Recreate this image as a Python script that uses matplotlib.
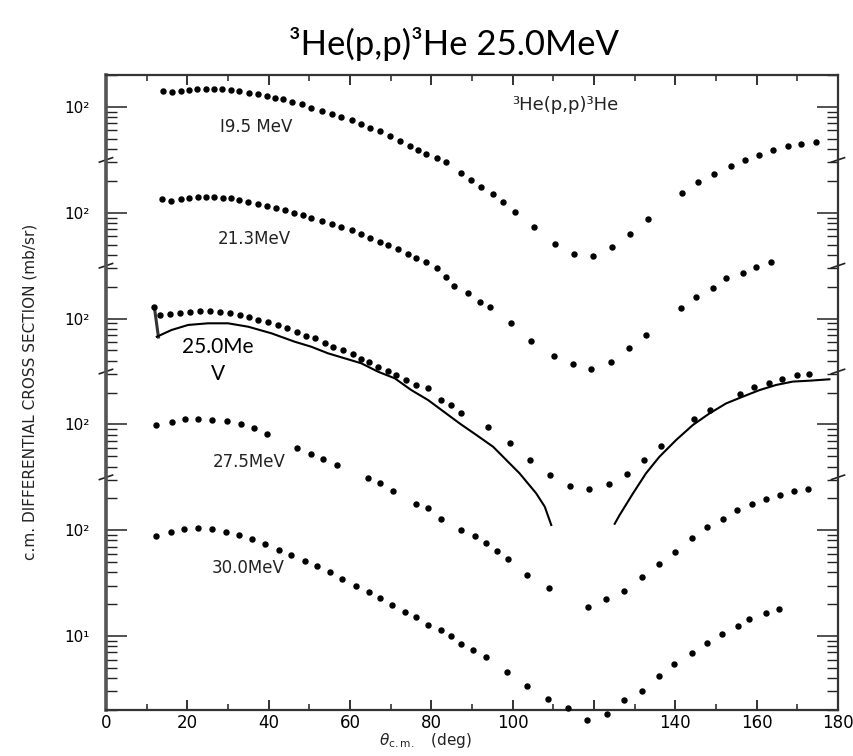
import matplotlib
matplotlib.use('Agg')
import matplotlib.pyplot as plt
import matplotlib.transforms as mtransforms
from matplotlib.ticker import FixedLocator, LogLocator, FixedFormatter, NullFormatter

# 3He(p,p)3He angular distributions (theta c.m. in deg, mb/sr)
theta_195 = [14.1, 16.3, 18.4, 20.5, 22.5, 24.6, 26.5, 28.6, 30.7, 32.8, 35.1, 37.4,
             39.5, 41.5, 43.6, 45.8, 48.2, 50.5, 53.0, 55.5, 57.9, 60.4, 62.8, 64.9,
             67.3, 69.8, 72.2, 74.7, 76.8, 78.8, 81.3, 83.7, 87.4, 89.8, 92.3, 95.2,
             97.6, 100.5, 105.2, 110.5, 115.2, 119.7, 124.5, 128.9, 133.2, 141.7,
             145.5, 149.6, 153.7, 157.2, 160.5, 164.1, 167.6, 170.9, 174.6]
xs_195 = [143, 139, 142, 145, 147, 149, 148, 147, 145, 142, 136, 132,
          127, 122, 118, 112, 106, 98.6, 92.3, 86.4, 81.0, 75.8, 68.6, 63.7,
          59.3, 52.8, 47.7, 43.1, 39.2, 36.2, 32.7, 30.0, 23.9, 20.4, 17.4, 15.1,
          12.6, 10.2, 7.29, 5.07, 4.05, 3.93, 4.75, 6.34, 8.73, 15.3,
          19.4, 23.1, 27.5, 31.8, 35.4, 39.0, 42.5, 45.0, 46.4]

theta_213 = [13.7, 16.1, 18.4, 20.5, 22.7, 24.7, 26.6, 28.7, 30.7, 32.8, 35.0, 37.4,
             39.7, 41.9, 44.0, 46.3, 48.5, 50.5, 53.0, 55.5, 57.9, 60.4, 62.8, 64.9,
             67.3, 69.4, 71.8, 74.3, 76.3, 78.8, 81.3, 83.7, 85.7, 89.0, 91.9, 94.5,
             99.7, 104.6, 110.1, 114.8, 119.3, 124.2, 128.6, 132.9, 141.4, 145.1,
             149.2, 152.5, 156.6, 159.9, 163.6]
xs_213 = [134, 130, 135, 139, 141, 141, 141, 139, 137, 133, 127, 122,
          116, 110, 106, 100, 95.3, 90.0, 84.2, 78.3, 73.4, 68.3, 62.7, 57.4,
          53.4, 49.6, 45.2, 40.8, 37.2, 34.1, 30.3, 24.9, 20.5, 17.3, 14.5, 12.8,
          9.03, 6.18, 4.43, 3.70, 3.36, 3.86, 5.24, 7.00, 12.5, 16.0,
          19.6, 24.0, 27.0, 30.5, 34.0]

theta_250 = [11.9, 13.3, 15.7, 18.2, 20.6, 23.1, 25.6, 28.0, 30.5, 32.9, 35.1, 37.4,
             39.9, 42.2, 44.6, 46.9, 49.3, 51.4, 53.8, 55.9, 58.3, 60.8, 62.8, 64.6,
             66.9, 69.4, 71.4, 73.9, 76.3, 79.2, 82.5, 84.9, 87.4, 93.9, 99.3, 104.2,
             109.3, 114.2, 118.9, 123.6, 128.2, 132.2, 136.5, 144.7, 148.6, 155.8,
             159.3, 163.0, 166.3, 169.9, 173.0]
xs_250 = [128, 108, 110, 114, 116, 118, 118, 116, 113, 108, 103, 97.0,
          92.3, 87.1, 80.9, 75.2, 68.9, 65.1, 59.2, 54.2, 50.1, 46.0, 41.5, 39.1,
          35.1, 32.2, 29.3, 26.3, 23.6, 21.9, 17.0, 15.2, 12.7, 9.39, 6.71, 4.61,
          3.30, 2.62, 2.44, 2.72, 3.42, 4.61, 6.25, 11.2, 13.7, 19.4,
          22.4, 24.8, 26.9, 29.1, 29.9]
err_low_250 = 67  # lower end of the bar on the first 25.0 MeV point

# calculated curve drawn through the 25.0 MeV data (two branches)
theta_calc_a = [12.5, 16.1, 20.2, 25.1, 30.0, 35.0, 40.7, 46.4, 50.5, 54.6, 62.8, 66.9,
                71.0, 75.1, 79.2, 87.0, 91.1, 95.2, 101.7, 105.8, 107.9, 109.5]
xs_calc_a = [67.4, 78.0, 87.1, 90.3, 90.3, 83.8, 72.6, 60.5, 54.2, 47.0, 37.8, 31.5,
             27.3, 21.1, 17.0, 10.2, 7.94, 6.15, 3.45, 2.23, 1.67, 1.12]
theta_calc_b = [125.1, 126.3, 129.6, 132.8, 136.1, 140.2, 144.3, 148.4, 152.5, 156.6,
                160.7, 164.8, 168.9, 173.0, 177.9]
xs_calc_b = [1.15, 1.39, 2.23, 3.45, 4.95, 7.12, 9.86, 12.7, 15.8, 18.3,
             21.1, 23.6, 25.4, 25.9, 26.7]

theta_275 = [12.4, 16.3, 19.4, 22.7, 26.1, 29.7, 33.1, 36.4, 39.5, 46.9, 50.5, 53.4,
             56.7, 64.4, 67.3, 70.6, 76.3, 79.2, 82.5, 87.4, 90.7, 93.5, 96.1, 98.8,
             103.6, 108.9, 118.5, 123.0, 127.5, 131.9, 136.1, 140.0, 144.1, 147.8,
             151.7, 155.2, 158.9, 162.2, 165.8, 169.1, 172.6]
xs_275 = [98.7, 106, 112, 112, 110, 108, 100, 91.8, 80.5, 59.4, 52.5, 47.1,
          41.0, 31.1, 27.7, 23.5, 17.7, 16.1, 12.9, 10.0, 8.87, 7.52, 6.40, 5.31,
          3.75, 2.82, 1.87, 2.22, 2.68, 3.59, 4.80, 6.18, 8.49, 10.8,
          12.9, 15.5, 17.7, 19.9, 21.7, 23.3, 24.7]

theta_300 = [12.4, 16.0, 19.2, 22.7, 26.1, 29.5, 32.7, 35.8, 39.2, 42.5, 45.6, 48.9,
             52.0, 55.0, 58.1, 61.4, 64.6, 67.3, 70.3, 73.5, 76.3, 79.2, 82.5, 84.8,
             87.4, 90.2, 93.4, 98.6, 103.6, 108.7, 113.6, 118.3, 123.2, 127.3, 131.9,
             136.0, 139.8, 144.2, 147.7, 151.5, 155.4, 158.2, 162.3, 165.4]
xs_300 = [88.1, 96.9, 103, 106, 102, 96.9, 90.1, 82.0, 74.1, 65.1, 58.3, 51.5,
          45.9, 40.0, 34.6, 29.9, 25.9, 22.7, 19.6, 17.0, 15.0, 12.7, 11.4, 10.0,
          8.40, 7.38, 6.30, 4.57, 3.37, 2.52, 2.07, 1.61, 1.83, 2.48, 3.04,
          4.19, 5.41, 6.86, 8.65, 10.5, 12.5, 14.5, 16.6, 18.0]

# each curve is shifted up by a number of decades on the common log axis
series = [
    (theta_195, xs_195, 4),
    (theta_213, xs_213, 3),
    (theta_250, xs_250, 2),
    (theta_275, xs_275, 1),
    (theta_300, xs_300, 0),
]
energy_labels = ['I9.5 MeV', '21.3MeV', '27.5MeV', '30.0MeV']

fig = plt.figure(figsize=(8.54, 7.56), dpi=100)
ax = fig.add_axes([0.1241, 0.0608, 0.8571, 0.8400])

for th, xs, k in series:
    ys = [v * 10 ** k for v in xs]
    ax.plot(th, ys, 'o', ms=3.6, color='black', mec='black', clip_on=False, zorder=3)

# error bar on the first forward-angle 25.0 MeV point
ax.plot([theta_250[0], theta_250[0] + 1.0], [xs_250[0] * 100, err_low_250 * 100],
        color='#333333', lw=2.2)

ax.plot(theta_calc_a, [v * 100 for v in xs_calc_a], color='black', lw=1.5)
ax.plot(theta_calc_b, [v * 100 for v in xs_calc_b], color='black', lw=1.5)

ax.set_yscale('log')
ax.set_xlim(0, 180)
ax.set_ylim(10 ** 0.3006, 10 ** 6.3025)

ax.xaxis.set_major_locator(FixedLocator([0, 20, 40, 60, 80, 100, 120, 140, 160, 180]))
ax.xaxis.set_major_formatter(FixedFormatter(['0', '20', '40', '60', '80', '100', '',
                                             '140', '160', '180']))
ax.xaxis.set_minor_locator(FixedLocator(list(range(10, 180, 20))))

ax.yaxis.set_major_locator(FixedLocator([1e1, 1e2, 1e3, 1e4, 1e5, 1e6]))
ax.yaxis.set_major_formatter(FixedFormatter(['10¹', '10²', '10²', '10²', '10²', '10²']))
ax.yaxis.set_minor_locator(LogLocator(base=10, subs=range(2, 10), numticks=20))
ax.yaxis.set_minor_formatter(NullFormatter())

ax.tick_params(axis='x', which='both', direction='in', top=True, bottom=True,
               labelsize=12, pad=3, color='#222222')
ax.tick_params(axis='x', which='major', length=7, width=1.3)
ax.tick_params(axis='x', which='minor', length=4, width=1.1)
ax.tick_params(axis='y', which='both', direction='in', left=True, right=True,
               labelsize=11, pad=12, color='#222222')
ax.tick_params(axis='y', which='major', length=15, width=1.1)
ax.tick_params(axis='y', which='minor', length=8, width=1.0)

for side in ['left', 'right', 'top', 'bottom']:
    ax.spines[side].set_linewidth(1.6)
    ax.spines[side].set_color('#333333')
ax.spines['left'].set_linewidth(2.6)
ax.spines['left'].set_color('#555555')

# axis break marks between the shifted curves
trans = mtransforms.blended_transform_factory(ax.transAxes, ax.transData)
for k in [2, 3, 4, 5]:
    yb = 10 ** (k + 0.5)
    for xa in [0.0, 1.0]:
        ax.plot([xa - 0.009, xa + 0.009], [yb / 1.05, yb * 1.05], transform=trans,
                color='#222222', lw=1.2, clip_on=False)

# curve labels
for lab, (xa, ya) in zip(energy_labels, [(0.205, 0.918), (0.202, 0.742),
                                         (0.195, 0.391), (0.194, 0.224)]):
    ax.text(xa, ya, lab, transform=ax.transAxes, ha='center', va='center',
            fontsize=12, color='#222222', family='DejaVu Sans')
ax.text(0.627, 0.953, '³He(p,p)³He', transform=ax.transAxes, ha='center', va='center',
        fontsize=13, color='#222222', family='DejaVu Sans')
ax.text(0.153, 0.550, '25.0Me\nV', transform=ax.transAxes, ha='center', va='center',
        fontsize=15, family=['Lato', 'DejaVu Sans'], linespacing=1.45)

fig.text(0.532, 0.927, '³He(p,p)³He 25.0MeV', ha='center', va='baseline',
         fontsize=25, family=['Lato', 'DejaVu Sans'])
fig.text(0.035, 0.481, 'c.m. DIFFERENTIAL CROSS SECTION (mb/sr)', rotation=90,
         ha='center', va='center', fontsize=11,
         family=['Liberation Sans Narrow', 'DejaVu Sans'], color='#222222')
fig.text(0.498, 0.021, r'$\theta_{\rm c.m.}$   (deg)', ha='center', va='center',
         fontsize=11, color='#222222')

fig.savefig('out.png', dpi=100)
